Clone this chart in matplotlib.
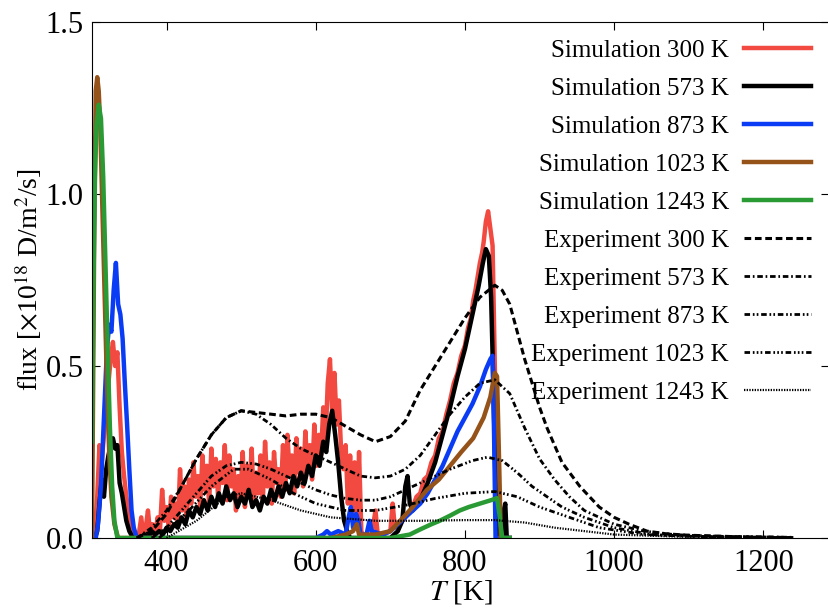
import numpy as np
import matplotlib
matplotlib.use('Agg')
import matplotlib.pyplot as plt

plt.rcParams['font.family'] = 'serif'
plt.rcParams['font.serif'] = ['Liberation Serif', 'DejaVu Serif']
plt.rcParams['mathtext.fontset'] = 'stix'

# ---- simulation data (T [K], flux [1e18 D/m^2/s]) ----
t_sim300 = [300, 304, 307, 310, 313, 316, 319, 322, 325, 328, 331, 334, 337, 340, 343, 346, 350, 354, 358,
            362, 366, 369, 372, 375, 378, 381, 384, 388, 391, 394, 397, 400, 403, 406, 409, 412, 415, 418,
            421, 424, 427, 430, 433, 436, 439, 442, 445, 448, 451, 454, 457, 460, 463, 466, 469, 472, 475,
            478, 481, 484, 487, 490, 493, 496, 499, 502, 505, 508, 511, 514, 517, 520, 523, 526, 529, 532,
            535, 538, 541, 544, 547, 550, 553, 556, 559, 562, 565, 568, 571, 574, 577, 580, 583, 586, 589,
            592, 595, 598, 601, 604, 607, 610, 613, 616, 619, 622, 625, 628, 631, 634, 637, 640, 643, 646,
            649, 652, 655, 658, 661, 665, 670, 675, 680, 683, 690, 700, 703, 706, 712, 720, 730, 735, 740,
            745, 750, 755, 760, 765, 770, 775, 780, 785, 790, 795, 800, 804, 808, 811, 814, 817, 820, 823,
            825, 828, 831, 834, 837, 840, 843, 846]
f_sim300 = [0.00, 0.02, 0.12, 0.27, 0.22, 0.30, 0.36, 0.45, 0.52, 0.57, 0.50, 0.54, 0.38, 0.25, 0.18, 0.12,
            0.06, 0.02, 0.00, 0.00, 0.06, 0.00, 0.03, 0.08, 0.01, 0.04, 0.00, 0.06, 0.02, 0.14, 0.05, 0.09,
            0.03, 0.12, 0.06, 0.10, 0.04, 0.20, 0.08, 0.15, 0.06, 0.17, 0.10, 0.22, 0.12, 0.18, 0.09, 0.24,
            0.14, 0.21, 0.10, 0.26, 0.15, 0.23, 0.12, 0.22, 0.16, 0.27, 0.11, 0.24, 0.15, 0.20, 0.08, 0.18,
            0.12, 0.25, 0.09, 0.21, 0.14, 0.26, 0.10, 0.19, 0.13, 0.24, 0.11, 0.28, 0.15, 0.22, 0.10, 0.25,
            0.16, 0.20, 0.12, 0.27, 0.14, 0.30, 0.18, 0.24, 0.13, 0.29, 0.19, 0.26, 0.15, 0.31, 0.20, 0.27,
            0.17, 0.33, 0.21, 0.30, 0.24, 0.38, 0.28, 0.45, 0.52, 0.36, 0.48, 0.33, 0.40, 0.25, 0.20, 0.27,
            0.10, 0.24, 0.06, 0.22, 0.04, 0.25, 0.02, 0.00, 0.00, 0.01, 0.08, 0.01, 0.01, 0.02, 0.10, 0.03,
            0.04, 0.06, 0.09, 0.12, 0.13, 0.17, 0.18, 0.22, 0.24, 0.29, 0.31, 0.36, 0.40, 0.45, 0.48, 0.53,
            0.56, 0.61, 0.64, 0.69, 0.72, 0.76, 0.80, 0.83, 0.86, 0.92, 0.95, 0.90, 0.85, 0.50, 0.10, 0.00]

t_sim573 = [300, 304, 307, 310, 313, 316, 319, 322, 325, 328, 331, 334, 337, 340, 343, 346, 350, 355, 365,
            370, 375, 380, 385, 390, 395, 400, 405, 410, 415, 420, 425, 430, 435, 440, 445, 450, 455, 460,
            465, 470, 475, 480, 485, 490, 495, 500, 505, 510, 515, 520, 525, 530, 535, 540, 545, 550, 555,
            560, 565, 570, 575, 580, 585, 590, 595, 600, 605, 610, 614, 618, 622, 626, 630, 634, 638, 642,
            646, 700, 710, 716, 720, 723, 726, 730, 740, 750, 760, 770, 780, 790, 800, 810, 818, 824, 828,
            832, 835, 838, 841, 843, 850, 852, 854, 856, 860]
f_sim573 = [0.00, 0.00, 0.02, 0.10, 0.17, 0.12, 0.20, 0.24, 0.27, 0.29, 0.26, 0.27, 0.16, 0.13, 0.09, 0.05,
            0.02, 0.00, 0.00, 0.01, 0.00, 0.02, 0.01, 0.02, 0.01, 0.03, 0.02, 0.04, 0.03, 0.06, 0.04, 0.08,
            0.06, 0.09, 0.07, 0.11, 0.08, 0.12, 0.09, 0.13, 0.10, 0.15, 0.11, 0.13, 0.09, 0.12, 0.10, 0.14,
            0.09, 0.11, 0.08, 0.12, 0.10, 0.14, 0.11, 0.15, 0.12, 0.16, 0.13, 0.18, 0.15, 0.19, 0.16, 0.21,
            0.18, 0.24, 0.21, 0.28, 0.25, 0.33, 0.37, 0.30, 0.22, 0.12, 0.05, 0.02, 0.00, 0.00, 0.02, 0.05,
            0.15, 0.18, 0.10, 0.08, 0.11, 0.16, 0.22, 0.30, 0.38, 0.47, 0.55, 0.65, 0.73, 0.80, 0.84, 0.82,
            0.70, 0.45, 0.15, 0.00, 0.00, 0.08, 0.10, 0.00, 0.00]

t_sim873 = [300, 305, 308, 312, 316, 320, 323, 326, 329, 332, 335, 338, 341, 344, 347, 350, 353, 356, 360,
            600, 610, 615, 620, 630, 640, 644, 647, 650, 654, 657, 660, 668, 672, 675, 690, 700, 710, 720,
            730, 740, 750, 760, 770, 780, 790, 800, 810, 820, 828, 834, 837, 839, 841, 860]
f_sim873 = [0.00, 0.00, 0.04, 0.15, 0.35, 0.55, 0.62, 0.60, 0.72, 0.80, 0.68, 0.65, 0.58, 0.45, 0.33, 0.20,
            0.08, 0.03, 0.00, 0.00, 0.01, 0.02, 0.01, 0.02, 0.01, 0.06, 0.09, 0.03, 0.07, 0.05, 0.01, 0.01,
            0.05, 0.02, 0.01, 0.02, 0.04, 0.06, 0.08, 0.10, 0.13, 0.17, 0.21, 0.26, 0.31, 0.35, 0.39, 0.44,
            0.49, 0.52, 0.53, 0.30, 0.00, 0.00]

t_sim1023 = [300, 301, 303, 305, 307, 309, 311, 314, 317, 320, 323, 326, 330, 335, 620, 640, 650, 655, 658,
             680, 700, 713, 730, 749, 765, 780, 795, 811, 825, 834, 840, 843, 846, 848, 860]
f_sim1023 = [0.00, 0.30, 0.90, 1.30, 1.34, 1.30, 1.20, 0.95, 0.70, 0.45, 0.25, 0.12, 0.04, 0.00, 0.00, 0.01,
             0.02, 0.04, 0.01, 0.01, 0.02, 0.05, 0.09, 0.14, 0.17, 0.21, 0.25, 0.29, 0.35, 0.41, 0.48, 0.47,
             0.20, 0.00, 0.00]

t_sim1243 = [300, 302, 304, 306, 309, 312, 315, 318, 321, 324, 327, 330, 334, 700, 713, 726, 740, 755, 766,
             780, 793, 805, 820, 835, 843, 846, 850, 860]
f_sim1243 = [0.28, 0.75, 1.05, 1.20, 1.26, 1.22, 1.05, 0.80, 0.55, 0.32, 0.15, 0.05, 0.00, 0.00, 0.005, 0.01,
             0.025, 0.04, 0.05, 0.065, 0.08, 0.09, 0.10, 0.11, 0.116, 0.07, 0.00, 0.00]

# ---- experiment data ----
t_exp300 = [360, 380, 400, 420, 440, 460, 480, 500, 520, 540, 560, 580, 600, 620, 640, 660, 680, 700, 720,
            740, 760, 780, 800, 820, 840, 850, 860, 880, 900, 910, 930, 954, 980, 1000, 1020, 1044, 1070,
            1100, 1130, 1160, 1190, 1220, 1240]
f_exp300 = [0.00, 0.02, 0.07, 0.15, 0.23, 0.30, 0.35, 0.37, 0.365, 0.36, 0.355, 0.36, 0.36, 0.35, 0.325,
            0.30, 0.28, 0.295, 0.34, 0.43, 0.50, 0.57, 0.64, 0.70, 0.735, 0.72, 0.68, 0.52, 0.38, 0.32, 0.22,
            0.15, 0.09, 0.06, 0.04, 0.02, 0.012, 0.008, 0.006, 0.004, 0.003, 0.002, 0.001]

t_exp573 = [360, 380, 400, 420, 440, 460, 480, 500, 520, 540, 560, 580, 600, 620, 640, 660, 680, 700, 720,
            740, 760, 780, 800, 820, 840, 860, 880, 900, 920, 940, 960, 980, 1000, 1040, 1080, 1120, 1160,
            1200, 1240]
f_exp573 = [0.00, 0.03, 0.08, 0.15, 0.23, 0.30, 0.35, 0.37, 0.36, 0.33, 0.29, 0.26, 0.24, 0.22, 0.20, 0.18,
            0.175, 0.18, 0.20, 0.24, 0.30, 0.36, 0.41, 0.45, 0.46, 0.42, 0.32, 0.23, 0.17, 0.12, 0.08, 0.06,
            0.04, 0.02, 0.01, 0.006, 0.004, 0.003, 0.002]

t_exp873 = [380, 400, 420, 440, 460, 480, 500, 520, 540, 560, 580, 600, 620, 640, 660, 680, 700, 740, 780,
            810, 830, 850, 870, 890, 910, 930, 960, 1000, 1050, 1100, 1150, 1200, 1240]
f_exp873 = [0.00, 0.03, 0.08, 0.13, 0.18, 0.21, 0.22, 0.215, 0.20, 0.18, 0.16, 0.14, 0.125, 0.115, 0.11,
            0.11, 0.12, 0.16, 0.20, 0.225, 0.235, 0.225, 0.19, 0.15, 0.12, 0.09, 0.06, 0.03, 0.01, 0.005,
            0.003, 0.002, 0.001]

t_exp1023 = [390, 400, 430, 460, 490, 510, 540, 570, 600, 640, 680, 720, 760, 800, 840, 870, 900, 940, 980,
             1040, 1100, 1160, 1240]
f_exp1023 = [0.00, 0.02, 0.08, 0.15, 0.20, 0.20, 0.17, 0.13, 0.10, 0.08, 0.08, 0.095, 0.115, 0.13, 0.135,
             0.12, 0.09, 0.06, 0.03, 0.01, 0.005, 0.003, 0.001]

t_exp1243 = [400, 440, 480, 500, 540, 580, 620, 680, 740, 800, 840, 880, 920, 960, 1000, 1100, 1240]
f_exp1243 = [0.00, 0.05, 0.12, 0.13, 0.11, 0.08, 0.06, 0.05, 0.05, 0.052, 0.052, 0.045, 0.03, 0.02, 0.01,
             0.003, 0.001]

fig = plt.figure(figsize=(8.29, 6.09), dpi=100)
ax = fig.add_axes([0.111, 0.1166, 0.889, 0.847])

ax.plot(t_sim300, f_sim300, color='#f24a40', lw=3.2, label='Simulation 300 K')
ax.plot(t_sim573, f_sim573, color='black', lw=3.2, label='Simulation 573 K')
ax.plot(t_sim873, f_sim873, color='#0a3cf5', lw=3.2, label='Simulation 873 K')
ax.plot(t_sim1023, f_sim1023, color='#955219', lw=3.2, label='Simulation 1023 K')
ax.plot(t_sim1243, f_sim1243, color='#2a9a34', lw=3.2, label='Simulation 1243 K')

ax.plot(t_exp300, f_exp300, color='black', lw=2.2, dashes=[2.2, 1.2], label='Experiment 300 K')
ax.plot(t_exp573, f_exp573, color='black', lw=2, dashes=[2.0, 1.0, 0.6, 1.0], label='Experiment 573 K')
ax.plot(t_exp873, f_exp873, color='black', lw=2, dashes=[2.0, 1.0, 0.6, 0.8, 0.6, 1.0], label='Experiment 873 K')
ax.plot(t_exp1023, f_exp1023, color='black', lw=2, dashes=[2.0, 1.0, 0.6, 0.8, 0.6, 0.8, 0.6, 1.0],
        label='Experiment 1023 K')
ax.plot(t_exp1243, f_exp1243, color='black', lw=1.6, dashes=[0.6, 0.6], label='Experiment 1243 K')

ax.set_xlim(300, 1288)
ax.set_ylim(0, 1.5)
ax.set_xticks([400, 600, 800, 1000, 1200])
ax.set_yticks([0.0, 0.5, 1.0, 1.5])
ax.tick_params(direction='in', top=True, right=True, labelsize=22, length=6, pad=6)
ax.tick_params(axis='x', pad=8)
ax.set_xlabel('$T$ [K]', fontsize=21, labelpad=0)
ax.set_ylabel('flux [$\\times$10$^{18}$ D/m$^2$/s]', fontsize=20, labelpad=1)

ax.legend(loc='upper right', frameon=False, fontsize=18, markerfirst=False, handlelength=2.7,
          handletextpad=0.6, labelspacing=0.62, borderaxespad=0.4, borderpad=0.3)

fig.savefig('out.png', dpi=100)
